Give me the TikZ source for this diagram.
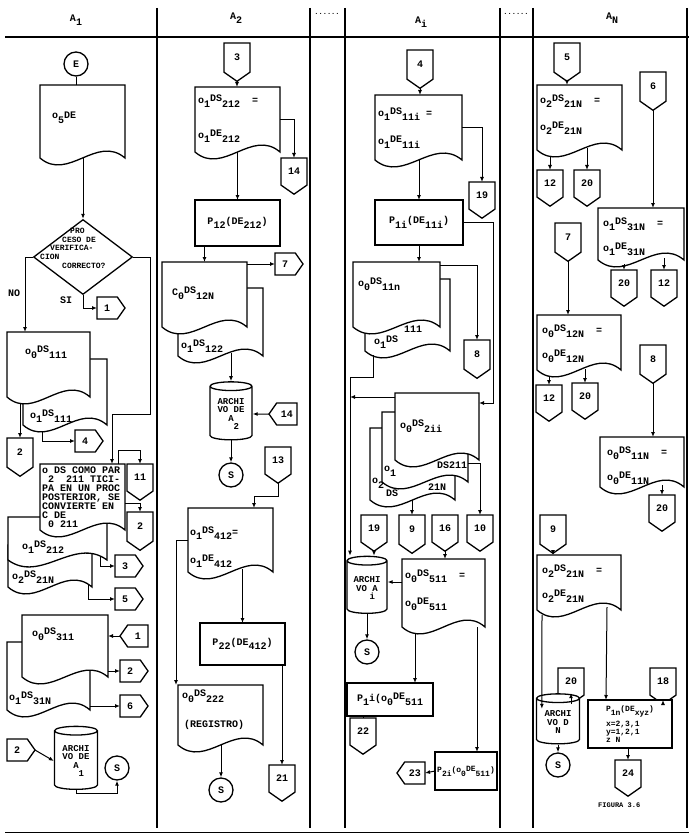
\documentclass[tikz,border=0pt]{standalone}
\usepackage{fontspec}
\setmonofont{Liberation Mono}
\usetikzlibrary{shapes.geometric,shapes.symbols,arrows.meta,calc}

\newcommand\bajo[1]{\raisebox{-0.45em}{#1}}
\newcommand\alto[1]{\raisebox{0.15em}{#1}}

% documento con borde inferior ondulado
\newcommand\docshape[5]{%
  \node[docbox, minimum width=#4, minimum height=#5] (#1) at (#2,#3) {};
  \draw[ln, fill=white] (#1.south east) -- (#1.north east) -- (#1.north west) -- (#1.south west)
    .. controls ($(#1.south west)!0.33!(#1.south east)+(0,24)$) and ($(#1.south west)!0.67!(#1.south east)+(0,-24)$) .. (#1.south east) -- cycle;}

\tikzset{
  every node/.style={font=\ttfamily\bfseries\fontsize{10}{10}\selectfont},
  ln/.style={line width=1.3pt},
  con/.style={line width=1pt},
  arr/.style={line width=1pt, -{Latex[length=5pt,width=4pt]}},
  txt/.style={anchor=north west, inner sep=0pt, align=left},
  docbox/.style={anchor=north west, inner sep=0pt, outer sep=0pt},
  pent/.style={signal, draw, line width=1.3pt, fill=white, signal from=nowhere, signal pointer angle=110, inner sep=1pt, outer sep=0pt},
  pdn/.style={pent, signal to=south, anchor=north, minimum width=26, minimum height=32},
  prt/.style={pent, signal to=east, anchor=west, minimum width=28, minimum height=22},
  plt/.style={pent, signal to=west, anchor=east, minimum width=28, minimum height=22},
  term/.style={circle, draw, line width=1.3pt, minimum size=24, inner sep=0pt, fill=white},
  cyl/.style={cylinder, shape border rotate=90, draw, line width=1.3pt, aspect=0.3, align=center, inner sep=1pt, fill=white, font=\ttfamily\bfseries\fontsize{9}{8.5}\selectfont},
  box/.style={rectangle, draw, line width=1.2pt, anchor=north west, inner sep=2pt, outer sep=0pt, fill=white}
}

\begin{document}
\begin{tikzpicture}[x=1pt,y=1pt,yscale=-1]
\useasboundingbox (0,0) rectangle (689,837);

% encabezado y columnas
\draw[line width=2.4pt] (5,37) -- (689,37);
\foreach \x in {157,310,345,500,533,687}
  \draw[line width=1.8pt] (\x,8) -- (\x,828);
\draw[line width=1pt] (5,832) -- (689,832);
\node (hA1) at (76,20) {A\bajo{1}};
\node (hA2) at (236,18) {A\bajo{2}};
\node (hAi) at (421,22) {A\bajo{i}};
\node (hAN) at (612,18) {A\bajo{N}};
\node[font=\ttfamily\bfseries\fontsize{7}{7}\selectfont] (hd1) at (327,14) {......};
\node[font=\ttfamily\bfseries\fontsize{7}{7}\selectfont] (hd2) at (516,14) {......};

% ---- A1
\node[term] (cE) at (76,64) {E};
\docshape{d5}{40}{85}{85}{73}
\node[txt] (t5) at (52,112) {o\bajo{5}DE};
\draw[con] (cE.south) -- (cE.south |- d5.north);
\node[diamond, draw, ln, minimum width=99, minimum height=75, inner sep=0pt] (q1) at (83,257) {};
\node[txt, font=\ttfamily\bfseries\fontsize{8}{8.5}\selectfont] (tq1) at (40,228)
  {\hspace*{30pt}PRO\\\hspace*{22pt}CESO DE\\\hspace*{10pt}VERIFICA-\\CION\\[1pt]\hspace*{22pt}CORRECTO?};
\draw[arr] (q1.north |- d5.south) -- (q1.north);

\docshape{d111b}{23}{359}{84}{66}
\docshape{d111f}{7}{332}{83}{65}
\node[txt] (t111a) at (25,346) {o\bajo{0}\alto{DS}\bajo{111}};
\node[txt] (t111b) at (30,410) {o\bajo{1}\alto{DS}\bajo{111}};
\draw[arr] (q1.west) -| ($(d111f.north west)+(18,0)$);
\node[txt] (tno) at (8,290) {NO};
\node[prt] (p1a) at (97,308) {1};
\draw[arr] (q1.south) |- (p1a.west);
\node[txt] (tsi) at (60,297) {SI};

\node[pdn] (p2a) at (20,438) {2};
\draw[arr] ($(p2a.north |- d111f.south)+(0,6)$) -- (p2a.north);
\node[prt] (p4a) at (75,441) {4};
\draw[arr] ($(d111b.south west)+(19,6)$) |- (p4a.west);

\docshape{dc3}{8}{545}{84}{42}
\docshape{dc2}{8}{517}{99}{43}
\docshape{dcf}{40}{464}{85}{66}
\node[txt, font=\ttfamily\bfseries\fontsize{10}{9}\selectfont] (tcomo) at (42,467)
  {o DS COMO PAR\\\ 2\ \ 211 TICI-\\PA EN UN PROC\\POSTERIOR, SE\\CONVIERTE EN\\C DE\\\ 0 211};
\coordinate (r1) at (150,414);
\draw[arr] (q1.east) -| (r1) -| ($(dcf.north west)+(72,0)$);
\node[txt] (t212b) at (22,541) {o\bajo{1}\alto{DS}\bajo{212}};
\node[txt] (t21Na) at (12,571) {o\bajo{2}\alto{DS}\bajo{21N}};
\node[prt] (p3a) at (115,566) {3};
\node[prt] (p5a) at (115,599) {5};
\draw[arr] ($(dc2.south east)+(-7,-3)$) |- (p3a.west);
\draw[arr] ($(dc3.south east)+(-4,-2)$) |- (p5a.west);
\node[pdn] (p11) at (140,464) {11};
\draw[arr] ($(dcf.north east)+(-7,0)$) -- ++(0,-14) -| (p11.north);
\node[pdn] (p2b) at (140,512) {2};
\draw[arr] ($(dcf.north east)+(0,39)$) -| (p2b.north);

\docshape{d311b}{7}{642}{83}{68}
\docshape{d311f}{22}{615}{86}{62}
\node[txt] (t311) at (32,628) {o\bajo{0}\alto{DS}\bajo{311}};
\node[txt] (t31N) at (9,692) {o\bajo{1}\alto{DS}\bajo{31N}};
\node[plt] (p1b) at (148,636) {1};
\draw[arr] (p1b.west) -- (p1b.west -| d311f.east);
\node[prt] (p2c) at (120,671) {2};
\draw[arr] (p2c.west -| d311f.east) -- (p2c.west);
\node[prt] (p6a) at (120,706) {6};
\draw[arr] (p6a.west -| d311b.east) -- (p6a.west);

\node[prt] (p2d) at (7,750) {2};
\node[cyl, minimum width=43, minimum height=63] (cyl1) at (76,761) {ARCHI\\VO DE\\A\\\ \ 1};
\draw[arr] (p2d.east) -- (cyl1.west);
\node[term] (cS1) at (117,768) {S};
\draw[arr] (cyl1.south) -- ++(0,3) -| (cS1.south);

% ---- A2
\node[pdn] (p3b) at (237,43) {3};
\docshape{d212}{195}{87}{85}{65}
\node[txt] (t212a) at (198,95) {o\bajo{1}\alto{DS}\bajo{212}\ \ =};
\node[txt] (t212c) at (198,130) {o\bajo{1}\alto{DE}\bajo{212}};
\draw[arr] (p3b.south) -- (p3b.south |- d212.north);
\node[pdn] (p14a) at (294,158) {14};
\draw[arr] (d212.east) -| (p14a.north);
\node[box, minimum width=85, minimum height=46] (bP12) at (195,200) {P\bajo{12}(DE\bajo{212})};
\draw[arr] (bP12.north |- d212.south) -- (bP12.north);

\docshape{d12Nb}{178}{288}{85}{68}
\docshape{d12Nf}{162}{262}{85}{65}
\node[txt] (t12N) at (172,287) {C\bajo{0}\alto{DS}\bajo{12N}};
\node[txt] (t122) at (181,340) {o\bajo{1}\alto{DS}\bajo{122}};
\draw[arr] (bP12.south -| d12Nf.north) -- (d12Nf.north);
\node[prt] (p7a) at (275,264) {7};
\draw[arr] (p7a.west -| d12Nf.east) -- (p7a.west);
\node[cyl, minimum width=42, minimum height=58] (cyl2) at (231,414) {ARCHI\\VO DE\\A\\\ \ 2};
\draw[arr] ($(cyl2.north |- d12Nb.south)+(0,-3)$) -- (cyl2.north);
\node[plt] (p14b) at (297,414) {14};
\draw[arr] (p14b.west) -- (cyl2.east);
\node[term] (cS2) at (231,475) {S};
\draw[arr] (cyl2.south) -- (cS2.north);

\node[pdn] (p13) at (278,447) {13};
\docshape{d412}{188}{508}{85}{64}
\draw[arr] (p13.south) -- ++(0,13) -| ($(d412.north west)+(66,0)$);
\node[txt] (t412a) at (190,527) {o\bajo{1}\alto{DS}\bajo{412}=};
\node[txt] (t412b) at (190,555) {o\bajo{1}\alto{DE}\bajo{412}};
\node[box, minimum width=85, minimum height=42] (bP22) at (200,623) {P\bajo{22}(DE\bajo{412})};
\draw[arr] ($(bP22.north |- d412.south)+(0,-3)$) -- (bP22.north);
\docshape{dREG}{178}{685}{85}{60}
\draw[arr] (d412.west) -| ($(dREG.north west)+(-2,0)$);
\node[txt] (t222) at (182,690) {o\bajo{0}\alto{DS}\bajo{222}};
\node[txt] (treg) at (184,720) {(REGISTRO)};
\node[pdn] (p21) at (282,765) {21};
\draw[arr] (p21.north |- bP22.south) -- (p21.north);
\node[term] (cS3) at (221,790) {S};
\draw[arr] (cS3.north |- dREG.south) -- (cS3.north);

% ---- Ai
\node[pdn] (p4b) at (420,50) {4};
\docshape{d11i}{375}{95}{87}{65}
\draw[arr] (p4b.south) -- (p4b.south |- d11i.north);
\node[txt] (t11ia) at (378,108) {o\bajo{1}\alto{DS}\bajo{11i}\ =};
\node[txt] (t11ib) at (378,136) {o\bajo{1}\alto{DE}\bajo{11i}};
\node[pdn] (p19a) at (482,182) {19};
\draw[arr] (d11i.east) -| (p19a.north);
\node[box, minimum width=88, minimum height=45] (bP1i) at (375,200) {P\bajo{1i}(DE\bajo{11i})};
\draw[arr] (bP1i.north |- d11i.south) -- (bP1i.north);

\docshape{d11nb}{365}{279}{85}{72}
\docshape{d11nf}{353}{262}{87}{65}
\draw[arr] (bP1i.south) -- (bP1i.south |- d11nf.north);
\node[txt] (t11n) at (358,278) {o\bajo{0}\alto{DS}\bajo{11n}};
\node[txt] (t111c) at (404,326) {111};
\node[txt] (t1ds) at (374,336) {o\bajo{1}\alto{DS}};
\node[pdn] (p8a) at (477,340) {8};
\draw[arr] ($(d11nf.north east)+(0,3)$) -| (p8a.north);
\coordinate (ci1) at (350,377);
\draw[con] ($(d11nb.south west)+(8,4)$) |- (ci1);

\docshape{d2ii3}{370}{428}{85}{72}
\docshape{d2ii2}{382}{412}{86}{70}
\docshape{d2iif}{395}{393}{84}{67}
\draw[arr] (bP1i.east) -- ++(30,0) |- ($(d2iif.north east)+(0,10)$);
\draw[arr] ($(d2iif.north west)+(0,4)$) -- (ci1 |- 0,397);
\node[txt] (t2ii) at (400,420) {o\bajo{0}\alto{DS}\bajo{2ii}};
\node[txt] (t2iib) at (384,466) {o\bajo{1}};
\node[txt] (t211) at (437,462) {DS211};
\node[txt] (t2iic) at (372,478) {o\bajo{2}};
\node[txt] (t2iid) at (386,490) {DS};
\node[txt] (t21Nc) at (428,484) {21N};
\node[pdn] (p10) at (480,515) {10};
\draw[arr] ($(d2ii2.south east)+(0,-19)$) -| (p10.north);
\node[pdn] (p9a) at (412,515) {9};
\draw[arr] (p9a.north |- d2ii3.south) -- (p9a.north);
\node[pdn] (p19b) at (374,515) {19};
\node[pdn] (p16) at (445,515) {16};

\node[cyl, minimum width=40, minimum height=57] (cylAi) at (367,588) {ARCHI\\VO A\\\ \ i};
\draw[arr] (p19b.south) -- (p19b.south |- cylAi.north);
\draw[arr] (ci1) -- (ci1 |- cylAi.north);
\docshape{d511}{402}{559}{83}{68}
\draw[arr] (p16.south) -- (p16.south |- d511.north);
\node[txt] (t511a) at (405,570) {o\bajo{0}\alto{DS}\bajo{511}\ \ =};
\node[txt] (t511b) at (405,598) {o\bajo{0}\alto{DE}\bajo{511}};
\coordinate (c511) at ($(d511.north west)+(0,23)$);
\draw[arr] (c511) -- (c511 -| cylAi.east);
\node[term] (cSi) at (367,652) {S};
\draw[arr] (cylAi.south) -- (cSi.north);
\node[box, minimum width=86, minimum height=33] (bP1ii) at (347,683) {P\bajo{1}i(o\bajo{0}\alto{DE}\bajo{511}};
\draw[arr] ($(d511.south west)+(13,7)$) -- ($(bP1ii.north west)+(68,0)$);
\node[pdn] (p22) at (363,718) {22};
\draw[con] (p22.north |- bP1ii.south) -- (p22.north);
\node[box, minimum width=62, minimum height=38, font=\ttfamily\bfseries\fontsize{8}{8}\selectfont] (bP2ii) at (435,752) {P\bajo{2i}(o\bajo{0}\alto{DE}\bajo{511})};
\draw[arr] ($(d511.south east)+(-8,0)$) -- ($(bP2ii.north west)+(42,0)$);
\node[plt] (p23) at (425,773) {23};
\draw[arr] (bP2ii.west) -- (p23.east);

% ---- AN
\node[pdn] (p5b) at (567,43) {5};
\docshape{d21Na}{537}{85}{85}{65}
\draw[arr] (p5b.south) -- (p5b.south |- d21Na.north);
\node[txt] (t21Na1) at (540,95) {o\bajo{2}\alto{DS}\bajo{21N}\ \ =};
\node[txt] (t21Na2) at (540,122) {o\bajo{2}\alto{DE}\bajo{21N}};
\node[pdn] (p12a) at (550,170) {12};
\node[pdn] (p20a) at (587,170) {20};
\draw[arr] ($(p12a.north |- d21Na.south)+(0,6)$) -- (p12a.north);
\draw[arr] ($(p20a.north |- d21Na.south)+(0,-2)$) -- (p20a.north);

\node[pdn] (p6b) at (653,72) {6};
\docshape{d31N}{598}{208}{86}{52}
\draw[arr] (p6b.south) -- (p6b.south |- d31N.north);
\node[txt] (t31Na) at (603,218) {o\bajo{1}\alto{DS}\bajo{31N}\ \ =};
\node[txt] (t31Nb) at (603,243) {o\bajo{1}\alto{DE}\bajo{31N}};
\node[pdn] (p20b) at (624,270) {20};
\node[pdn] (p12b) at (664,270) {12};
\draw[arr] ($(p20b.north |- d31N.south)+(0,4)$) -- (p20b.north);
\draw[arr] ($(p12b.north |- d31N.south)+(0,-2)$) -- (p12b.north);

\node[pdn] (p7b) at (568,223) {7};
\docshape{d12Nn}{537}{315}{84}{55}
\draw[arr] (p7b.south) -- (p7b.south |- d12Nn.north);
\node[txt] (t12Na) at (542,325) {o\bajo{0}\alto{DS}\bajo{12N}\ \ =};
\node[txt] (t12Nb) at (542,350) {o\bajo{0}\alto{DE}\bajo{12N}};
\node[pdn] (p12c) at (549,385) {12};
\node[pdn] (p20c) at (585,383) {20};
\draw[arr] ($(p12c.north |- d12Nn.south)+(0,6)$) -- (p12c.north);
\draw[arr] ($(p20c.north |- d12Nn.south)+(0,-1)$) -- (p20c.north);

\node[pdn] (p8b) at (653,345) {8};
\docshape{d11N}{600}{437}{84}{50}
\draw[arr] (p8b.south) -- (p8b.south |- d11N.north);
\node[txt] (t11Na) at (607,447) {o\bajo{0}\alto{DS}\bajo{11N}\ \ =};
\node[txt] (t11Nb) at (607,472) {o\bajo{0}\alto{DE}\bajo{11N}};
\node[pdn] (p20d) at (662,495) {20};
\draw[arr] ($(p20d.north |- d11N.south)+(0,-2)$) -- (p20d.north);

\node[pdn] (p9b) at (553,515) {9};
\docshape{d21Nb}{537}{555}{84}{55}
\draw[arr] (p9b.south) -- (p9b.south |- d21Nb.north);
\node[txt] (t21Nb1) at (542,565) {o\bajo{2}\alto{DS}\bajo{21N}\ \ =};
\node[txt] (t21Nb2) at (542,590) {o\bajo{2}\alto{DE}\bajo{21N}};
\node[pdn] (p20e) at (571,668) {20};
\node[pdn] (p18) at (663,668) {18};
\node[cyl, minimum width=43, minimum height=50] (cylN) at (558,722) {ARCHI\\VO D\\N};
\node[box, minimum width=84, minimum height=48, align=left, font=\ttfamily\bfseries\fontsize{8}{8}\selectfont] (bP1n) at (588,700) {P\bajo{1n}(DE\bajo{xyz})\\[3pt]x=2,3,1\\y=1,2,1\\z N};
\draw[arr] ($(d21Nb.south west)+(5,5)$) -- ($(cylN.north west)+(6,9)$);
\draw[arr] (p20e.south) -- (p20e.south |- cylN.north);
\draw[arr] ($(d21Nb.south east)+(-14,-3)$) -- ($(bP1n.north west)+(18,0)$);
\draw[arr] (p18.south) -- (p18.south |- bP1n.north);
\node[term] (cSN) at (558,765) {S};
\draw[arr] (cylN.south) -- (cSN.north);
\node[pdn] (p24) at (628,760) {24};
\draw[arr] (p24.north |- bP1n.south) -- (p24.north);
\node[txt, font=\ttfamily\bfseries\fontsize{7}{8}\selectfont] (tfig) at (598,803) {FIGURA 3.6};
\end{tikzpicture}
\end{document}
